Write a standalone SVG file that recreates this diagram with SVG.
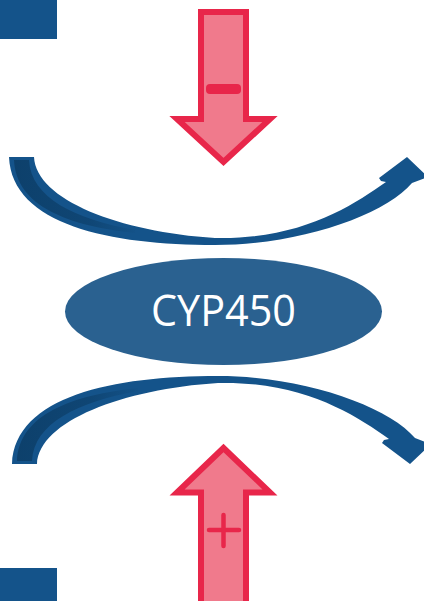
<svg xmlns="http://www.w3.org/2000/svg" width="424" height="601" viewBox="0 0 424 601">
<style>
.blk{fill:#14538a}
.curve{fill:#14538a}
.shade{fill:url(#fade)}
.red{fill:#f07a8c;stroke:#e8264a;stroke-width:6;stroke-linejoin:miter}
.sign{stroke:#e8264a;stroke-width:4.5;stroke-linecap:round;fill:none}
.lbl{font-family:"Open Sans","Liberation Sans",sans-serif;font-size:44px;fill:#ffffff}
</style>
<defs>
<linearGradient id="fade" gradientUnits="userSpaceOnUse" x1="10" y1="0" x2="140" y2="0">
<stop offset="0" stop-color="#0d406b" stop-opacity="1"/>
<stop offset="0.6" stop-color="#0d406b" stop-opacity="0.7"/>
<stop offset="1" stop-color="#0d406b" stop-opacity="0"/>
</linearGradient>
<g id="carrow">
<path class="curve" d="M9,157 L34,157 C36,200 120,232 215,238 C300,240 352,206 386,182 L381,181 L379,178 L407,157 L428,177 L412,183 C385,215 300,245 215,245 C110,245 12,225 9,157 Z"/>
<path class="shade" d="M14,160 L29,160 C31,198 75,219 135,230 L135,233 C70,226 16,207 14,160 Z"/>
</g>
</defs>
<g id="box-top"><rect class="blk" x="0" y="0" width="57" height="39"/></g>
<g id="box-bottom"><rect class="blk" x="0" y="568" width="57" height="33"/></g>
<g id="connectors">
<use href="#carrow"/>
<use href="#carrow" transform="translate(3,621) scale(1,-1)"/>
</g>
<g id="inhibit">
<polygon class="red" points="201,12 246,12 246,119 270,119 223.5,162 177,119 201,119"/>
<rect x="206" y="84" width="35" height="10" rx="4" fill="#e8264a"/>
</g>
<g id="induce">
<polygon class="red" points="223.5,448 270,492.5 246,492.5 246,606 201,606 201,492.5 177,492.5"/>
<line class="sign" x1="209" y1="530" x2="239" y2="530"/>
<line class="sign" x1="223.5" y1="515" x2="223.5" y2="546"/>
</g>
<g id="cyp450">
<ellipse cx="223.5" cy="311.5" rx="158.5" ry="53.5" fill="#2a6190"/>
<text class="lbl" x="223.5" y="326" text-anchor="middle" textLength="145" lengthAdjust="spacingAndGlyphs">CYP450</text>
</g>
</svg>
